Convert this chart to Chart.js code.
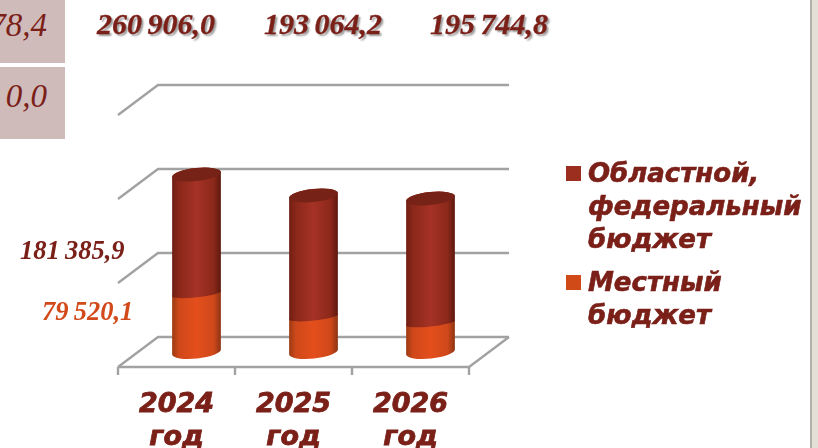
<!DOCTYPE html>
<html>
<head>
<meta charset="utf-8">
<style>
    html, body { margin: 0; padding: 0; background: #fff; overflow: hidden; }
    #wrap { position: relative; width: 818px; height: 448px; overflow: hidden; }
    #earningsChart { position: absolute; left: 0; top: 0; }
    .cell { position: absolute; left: -30px; width: 95px; background: #d0bbbb; color: #7a2018; text-align: right;
        font: italic 33px "Liberation Serif", serif; box-sizing: border-box; padding-right: 18px; }
    .total { position: absolute; top: 6px; color: #7a2018; font: italic bold 30px/36px "Liberation Serif", serif;
        word-spacing: -2px; -webkit-text-stroke: 0.3px #7a2018; text-shadow: 2px 2px 2px #999; white-space: nowrap; }
    .side { position: absolute; font: italic bold 26.5px/30px "Liberation Serif", serif; word-spacing: -1.5px; white-space: nowrap; }
    #strip { position: absolute; left: 810px; top: 0; width: 8px; height: 448px; background: #e4dfd7; border-left: 2px solid #b3b1ac; box-sizing: border-box; }
    .legend-item { position: absolute; left: 566px; color: #7a2018; font: italic bold 26px/33px "DejaVu Sans", sans-serif;
        -webkit-text-stroke: 0.6px #7a2018; white-space: nowrap; }
    .legend-item i { position: absolute; left: 0; top: 9px; width: 15px; height: 15px; }
    .legend-item span { display: block; margin-left: 22px; }
</style>
</head>
<body>
<div id="wrap">
    <canvas id="earningsChart" width="818" height="448"></canvas>
    <div id="strip"></div>
    <div class="cell" style="top:0;height:63px;line-height:50px">78,4</div>
    <div class="cell" style="top:67px;height:72px;line-height:58px">0,0</div>
</div>
<script src="https://cdn.jsdelivr.net/npm/chart.js@4/dist/chart.umd.min.js"></script>
<script>
const years = [['2024', 'год'], ['2025', 'год'], ['2026', 'год']];
const localBudget = [86600, 52000, 43200];
const regionalBudget = [177500, 180900, 185200];
const yTicks = [0, 125000, 250000, 375000];
const totalLabels = ['260 906,0', '193 064,2', '195 744,8'];
const regionalLabel = '181 385,9';
const localLabel = '79 520,1';
const regionalName = ['Областной,', 'федеральный', 'бюджет'];
const localName = ['Местный', 'бюджет'];

const redStops = ['#6e1e12', '#8a281a', '#a53225', '#8a281a', '#5e180e'];
const orangeStops = ['#9a3a12', '#cf481a', '#e44e1c', '#cf481a', '#8c3312'];
const gridColor = '#a2a2a2';
const depthX = 20; // half of the fake 3D depth
const depthY = 15;
const barWidth = 49;
const capRx = 24.5;
const capRy = 6.5;
const seamRy = 3.5; // the seam between the two parts is flatter than the bottom
const capTilt = -6 * Math.PI / 180;

function barGradient(ctx, cx, stops) {
    const g = ctx.createLinearGradient(cx - capRx, 0, cx + capRx, 0);
    [0, 0.14, 0.5, 0.85, 1].forEach((p, i) => g.addColorStop(p, stops[i]));
    return g;
}

// Cylinder body around one bar element: straight sides, round at the bottom and top
function drawCylinder(ctx, bar, stops, bottomRy) {
    const dx = capRx * Math.cos(capTilt);
    const dy = capRx * Math.sin(capTilt);
    ctx.save();
    ctx.fillStyle = barGradient(ctx, bar.x, stops);
    ctx.beginPath();
    ctx.moveTo(bar.x - dx, bar.y - dy);
    ctx.lineTo(bar.x - dx, bar.base - dy);
    ctx.ellipse(bar.x, bar.base, capRx, bottomRy, capTilt, Math.PI, 0, true);
    ctx.lineTo(bar.x + dx, bar.y + dy);
    ctx.ellipse(bar.x, bar.y, capRx, capRy, capTilt, 0, Math.PI, true);
    ctx.closePath();
    ctx.fill();
    ctx.restore();
}

function drawCap(ctx, bar, fill) {
    ctx.save();
    ctx.fillStyle = fill;
    ctx.beginPath();
    ctx.ellipse(bar.x, bar.y, capRx, capRy, capTilt, 0, Math.PI * 2);
    ctx.fill();
    ctx.restore();
}

// The walls and floor of the 3D box, taken from the chart's own scales
const boxPlugin = {
    id: 'box',
    beforeDatasetsDraw(chart) {
        const ctx = chart.ctx;
        const { left, right } = chart.chartArea;
        const yScale = chart.scales.y;
        const xScale = chart.scales.x;
        ctx.save();
        ctx.strokeStyle = gridColor;
        ctx.lineWidth = 2.4;
        yTicks.forEach(tick => {
            const y = yScale.getPixelForValue(tick);
            ctx.beginPath();
            ctx.moveTo(left - depthX, y + depthY);
            ctx.lineTo(left + depthX, y - depthY);
            ctx.lineTo(right + depthX, y - depthY);
            ctx.stroke();
        });
        const y0 = yScale.getPixelForValue(0);
        ctx.beginPath();
        ctx.moveTo(left - depthX, y0 + depthY);
        ctx.lineTo(right - depthX, y0 + depthY);
        ctx.lineTo(right + depthX, y0 - depthY);
        ctx.stroke();
        const step = xScale.getPixelForValue(1) - xScale.getPixelForValue(0);
        for (let i = 0; i <= years.length; i++) {
            const x = left - depthX + i * step;
            ctx.beginPath();
            ctx.moveTo(x, y0 + depthY);
            ctx.lineTo(x, y0 + depthY + 8);
            ctx.stroke();
        }
        ctx.restore();
    },
    afterDatasetsDraw(chart) {
        const ctx = chart.ctx;
        chart.getDatasetMeta(0).data.forEach(bar => drawCylinder(ctx, bar, orangeStops, capRy));
        chart.getDatasetMeta(1).data.forEach(bar => {
            drawCylinder(ctx, bar, redStops, seamRy);
            drawCap(ctx, bar, '#772216');
        });
    }
};

const ctx = document.querySelector('#earningsChart').getContext('2d');
const chart = new Chart(ctx, {
    type: 'bar',
    data: {
        labels: years,
        datasets: [{
            label: 'Местный бюджет',
            data: localBudget,
            backgroundColor: 'rgba(0, 0, 0, 0)', // the plugin paints the cylinders
            barThickness: barWidth,
            borderWidth: 0
        }, {
            label: 'Областной, федеральный бюджет',
            data: regionalBudget,
            backgroundColor: 'rgba(0, 0, 0, 0)',
            barThickness: barWidth,
            borderWidth: 0
        }]
    },
    options: {
        responsive: false,
        animation: false,
        layout: { padding: { left: 138, right: 329, top: 100, bottom: 0 } },
        scales: {
            x: {
                stacked: true,
                grid: { display: false, drawTicks: false },
                border: { display: false },
                afterFit: scale => { scale.height = 96; },
                ticks: {
                    color: '#7a2018',
                    textStrokeColor: '#7a2018',
                    textStrokeWidth: 0.8,
                    padding: 37,
                    labelOffset: -20,
                    maxRotation: 0,
                    autoSkip: false,
                    font: { family: '"DejaVu Sans"', size: 27, weight: 'bold', style: 'italic', lineHeight: 1.22 }
                }
            },
            y: {
                display: false,
                stacked: true,
                min: 0,
                max: 375000
            }
        },
        plugins: {
            legend: { display: false },
            tooltip: { enabled: false }
        }
    },
    plugins: [boxPlugin]
});

// Text boxes around the chart and the html legend
const wrap = document.querySelector('#wrap');

function addText(className, text, css) {
    const el = document.createElement('div');
    el.className = className;
    el.textContent = text;
    el.style.cssText = css;
    wrap.appendChild(el);
    return el;
}

totalLabels.forEach((text, i) => {
    addText('total', text, 'left:' + [97, 264, 430][i] + 'px');
});
addText('side', regionalLabel, 'left:20px;top:235px;color:#7a2018');
addText('side', localLabel, 'left:42px;top:296px;color:#d2491a');

function addLegendItem(lines, color, top) {
    const el = document.createElement('div');
    el.className = 'legend-item';
    el.style.top = top + 'px';
    el.innerHTML = '<i style="background:' + color + '"></i><span>' + lines.join('<br>') + '</span>';
    wrap.appendChild(el);
}
addLegendItem(regionalName, '#9c2e20', 157);
addLegendItem(localName, '#d04a18', 266);
</script>
</body>
</html>
